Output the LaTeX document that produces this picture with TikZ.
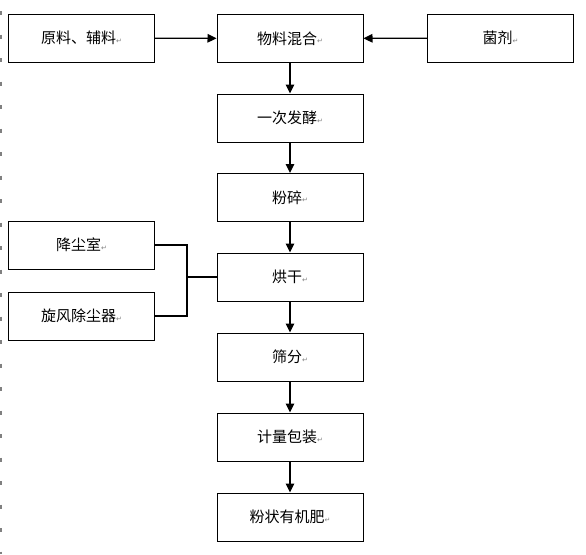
\documentclass[tikz,border=0pt]{standalone}
\usepackage{fontspec}
\setmainfont{Noto Sans CJK SC}
\newfontfamily\marksfont{DejaVu Sans}
\usetikzlibrary{arrows.meta}

\newcommand{\pmark}{{\marksfont\fontsize{7}{7}\selectfont\color{gray}\raisebox{0.5pt}{↵}}}

\begin{document}
\begin{tikzpicture}[x=1pt, y=-1pt,
    every path/.style={line width=1.3pt},
    stage/.style={draw, line width=1pt, minimum width=146pt, minimum height=48pt, inner sep=0pt,
        font=\fontsize{15}{17}\selectfont},
    flow/.style={-{Triangle[length=9pt, width=8.5pt]}}]

    \useasboundingbox (0,0) rectangle (586,554);

    % page margin marks
    \draw[gray, line width=1.2pt, dash pattern=on 4pt off 19.5pt] (1,11) -- (1,554);

    \node[stage] (raw) at (81.5,38) {原料、辅料\pmark};
    \node[stage] (mix) at (290,38.5) {物料混合\pmark};
    \node[stage] (agent) at (500.5,38) {菌剂\pmark};

    \node[stage] (ferm) at (290,118) {一次发酵\pmark};
    \node[stage] (crush) at (290,197.5) {粉碎\pmark};
    \node[stage] (dry) at (290,277) {烘干\pmark};
    \node[stage] (sieve) at (290,357) {筛分\pmark};
    \node[stage] (pack) at (290,437) {计量包装\pmark};
    \node[stage] (prod) at (290,517) {粉状有机肥\pmark};

    \node[stage] (dust) at (81.5,245) {降尘室\pmark};
    \node[stage] (cyc) at (81.5,316) {旋风除尘器\pmark};

    \draw[flow] (raw) -- (mix);
    \draw[flow] (agent) -- (mix);
    \draw[flow] (mix) -- (ferm);
    \draw[flow] (ferm) -- (crush);
    \draw[flow] (crush) -- (dry);
    \draw[flow] (dry) -- (sieve);
    \draw[flow] (sieve) -- (pack);
    \draw[flow] (pack) -- (prod);

    % dust collection
    \coordinate (hub) at (187,277);
    \draw[line width=1.1pt] (dust.east) -| (hub) |- (cyc.east);
    \draw[line width=1.1pt] (hub) -- (dry.west);

\end{tikzpicture}
\end{document}
